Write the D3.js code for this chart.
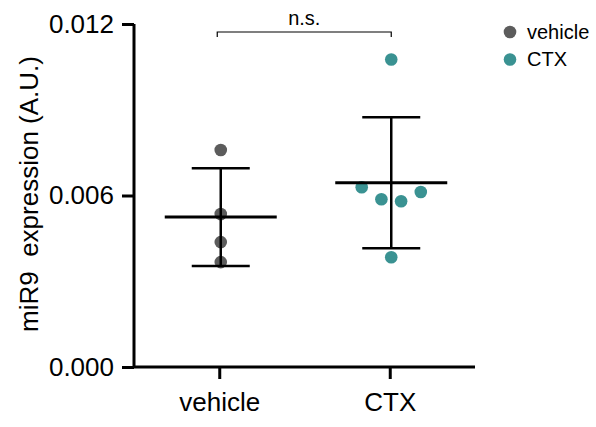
<!DOCTYPE html>
<html>
  <head>
    <meta charset="utf-8" />
    <script src="https://d3js.org/d3.v7.min.js"></script>
    <style>
      body { margin: 0; background: #fff; }
      svg { font-family: "Liberation Sans", Arial, sans-serif; }
      .axis path, .axis line { stroke: #000; stroke-width: 3px; }
      .axis text { fill: #000; }
    </style>
  </head>
  <body>
    <svg width="596" height="427"></svg>
    <script>
      // data
      const groups = ["vehicle", "CTX"];
      const vehicleValues = [0.00759, 0.00535, 0.00437, 0.00367];
      const ctxValues = [0.01076, 0.00629, 0.00587, 0.0058, 0.00612, 0.00384];
      const yTicks = [0, 0.006, 0.012];
      const colors = { vehicle: "#5c5c5c", CTX: "#3a9292" };

      const series = [
        { name: "vehicle", values: vehicleValues },
        { name: "CTX", values: ctxValues },
      ];

      const svg = d3.select("svg");
      const plotLeft = 134, plotRight = 475, plotTop = 24, plotBottom = 367;

      const x = d3.scalePoint().domain(groups).range([plotLeft, plotRight]).padding(0.5);
      const y = d3.scaleLinear().domain([0, 0.012]).range([plotBottom, plotTop]);

      // axes
      svg.append("g")
        .attr("class", "axis")
        .attr("transform", `translate(${plotLeft},0)`)
        .call(d3.axisLeft(y).tickValues(yTicks).tickFormat(d3.format(".3f")).tickSize(12).tickPadding(8))
        .call((g) => g.select(".domain").attr("d", `M0,${plotTop}V${plotBottom}`))
        .call((g) => g.selectAll("text").style("font-size", "26px"));

      svg.append("g")
        .attr("class", "axis")
        .attr("transform", `translate(0,${plotBottom})`)
        .call(d3.axisBottom(x).tickSize(12).tickPadding(14))
        .call((g) => g.select(".domain").attr("d", `M${plotLeft},0H${plotRight}`))
        .call((g) => g.selectAll("text").style("font-size", "26px"));

      svg.append("text")
        .attr("transform", `translate(38,194) rotate(-90)`)
        .attr("text-anchor", "middle")
        .attr("xml:space", "preserve")
        .style("font-size", "26px")
        .style("white-space", "pre")
        .text("miR9  expression (A.U.)");

      // simple beeswarm: points whose pixel y overlap are spread sideways
      const r = 6.3, gap = 19.7;
      function swarm(values) {
        const ys = values.map((v) => y(v));
        const used = new Array(values.length).fill(false);
        const dx = new Array(values.length).fill(0);
        values.forEach((v, i) => {
          if (used[i]) return;
          const cluster = [i];
          used[i] = true;
          values.forEach((w, j) => {
            if (!used[j] && cluster.some((k) => Math.abs(ys[k] - ys[j]) < 2 * r + 2)) {
              cluster.push(j);
              used[j] = true;
            }
          });
          cluster.forEach((k, n) => (dx[k] = (n - (cluster.length - 1) / 2) * gap));
        });
        return dx;
      }

      series.forEach((s) => {
        const cx = x(s.name) + 1.5;
        const dx = swarm(s.values);
        svg.append("g")
          .selectAll("circle")
          .data(s.values)
          .join("circle")
          .attr("cx", (d, i) => cx + dx[i])
          .attr("cy", (d) => y(d))
          .attr("r", r)
          .attr("fill", colors[s.name]);

        const m = d3.mean(s.values), sd = d3.deviation(s.values);
        const g = svg.append("g").attr("stroke", "#000").attr("fill", "none");
        g.append("line").attr("x1", cx).attr("x2", cx).attr("y1", y(m + sd)).attr("y2", y(m - sd)).attr("stroke-width", 2.5);
        g.append("line").attr("x1", cx - 29).attr("x2", cx + 29).attr("y1", y(m + sd)).attr("y2", y(m + sd)).attr("stroke-width", 2.5);
        g.append("line").attr("x1", cx - 29).attr("x2", cx + 29).attr("y1", y(m - sd)).attr("y2", y(m - sd)).attr("stroke-width", 2.5);
        g.append("line").attr("x1", cx - 56).attr("x2", cx + 56).attr("y1", y(m)).attr("y2", y(m)).attr("stroke-width", 3);
      });

      // significance bracket
      const bx1 = x("vehicle") - 2, bx2 = x("CTX") + 1.5, by = 32;
      svg.append("path")
        .attr("d", `M${bx1},${by + 5}V${by}H${bx2}V${by + 5}`)
        .attr("fill", "none")
        .attr("stroke", "#000")
        .attr("stroke-width", 1.2);
      svg.append("text")
        .attr("x", (bx1 + bx2) / 2)
        .attr("y", by - 7)
        .attr("text-anchor", "middle")
        .style("font-size", "20px")
        .text("n.s.");

      // legend
      const legend = svg.append("g").selectAll("g").data(groups).join("g")
        .attr("transform", (d, i) => `translate(510,${32 + i * 27.5})`);
      legend.append("circle").attr("r", 6.3).attr("fill", (d) => colors[d]);
      legend.append("text").attr("x", 17).attr("y", 6.5).style("font-size", "20px").text((d) => d);
    </script>
  </body>
</html>
